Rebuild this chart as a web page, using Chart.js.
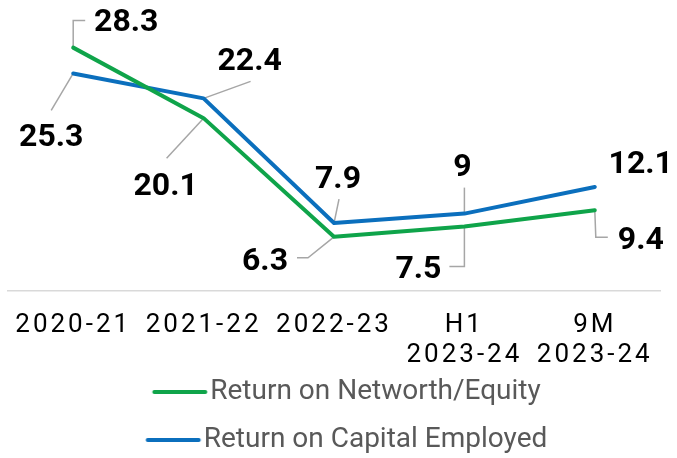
<!DOCTYPE html>
<html>
<head>
<meta charset="utf-8">
<script src="https://cdn.jsdelivr.net/npm/chart.js@4/dist/chart.umd.min.js"></script>
<style>
html,body{margin:0;padding:0;background:#fff;}
#wrap{width:677px;height:458px;position:relative;}
</style>
</head>
<body>
<div id="wrap"><canvas id="c"></canvas></div>
<script>
// ---- data ----
const categories = [["2020-21"], ["2021-22"], ["2022-23"], ["H1", "2023-24"], ["9M", "2023-24"]];
const seriesNames = ["Return on Networth/Equity", "Return on Capital Employed"];
const returnOnNetworth = [28.3, 20.1, 6.3, 7.5, 9.4];
const returnOnCapital = [25.3, 22.4, 7.9, 9, 12.1];
const yRange = [0, 30];

// ---- styling ----
const GREEN = '#0fa44a';
const BLUE = '#0b6fbd';
const LEADER = '#a6a6a6';

// label placement relative to each point (px): cap-middle offset and leader path
const labelLayout = [
  [
    {dx: 53, dy: -28, leader: [[0, 0], [0, -27], [12, -27]]},
    {dx: -38, dy: 65, leader: [[0, 0], [-37, 40]]},
    {dx: -69, dy: 22, leader: [[0, 0], [-26, 21], [-37, 21]]},
    {dx: -46, dy: 40, leader: [[0, 0], [0, 40], [-15, 40]]},
    {dx: 46, dy: 27, leader: [[0, 0], [1, 27], [13, 27]]}
  ],
  [
    {dx: -22, dy: 61, leader: [[0, 0], [-22, 37]]},
    {dx: 46, dy: -40, leader: [[0, 0], [47, -17]]},
    {dx: 4, dy: -47, leader: [[0, 0], [5, -24]]},
    {dx: -2, dy: -49, leader: [[0, -1], [0, -26]]},
    {dx: 46, dy: -25, leader: null}
  ]
];

function legendMarker(color) {
  const cv = document.createElement('canvas');
  cv.width = 94; cv.height = 8;
  const g = cv.getContext('2d');
  g.strokeStyle = color; g.lineWidth = 4; g.lineCap = 'round';
  g.beginPath(); g.moveTo(39.5, 4); g.lineTo(90.5, 4); g.stroke();
  return cv;
}

const labelPlugin = {
  id: 'pointLabels',
  beforeDatasetsDraw(chart) {
    const ctx = chart.ctx;
    chart.data.datasets.forEach((ds, di) => {
      const meta = chart.getDatasetMeta(di);
      meta.data.forEach((pt, i) => {
        const L = labelLayout[di][i];
        if (!L || !L.leader) return;
        ctx.save();
        ctx.strokeStyle = LEADER; ctx.lineWidth = 1.5;
        ctx.beginPath();
        L.leader.forEach(([dx, dy], k) => {
          if (k === 0) ctx.moveTo(pt.x + dx, pt.y + dy); else ctx.lineTo(pt.x + dx, pt.y + dy);
        });
        ctx.stroke();
        ctx.restore();
      });
    });
  },
  afterDatasetsDraw(chart) {
    const ctx = chart.ctx;
    chart.data.datasets.forEach((ds, di) => {
      const meta = chart.getDatasetMeta(di);
      meta.data.forEach((pt, i) => {
        const L = labelLayout[di][i];
        ctx.save();
        ctx.font = 'bold 32px Roboto';
        ctx.fillStyle = '#000';
        ctx.textAlign = 'center';
        ctx.textBaseline = 'alphabetic';
        ctx.fillText(String(ds.data[i]), pt.x + L.dx, pt.y + L.dy + 11.5);
        ctx.restore();
      });
    });
  }
};

function build() {
  new Chart(document.getElementById('c'), {
    type: 'line',
    data: {
      labels: categories,
      datasets: [
        {label: seriesNames[0], data: returnOnNetworth, borderColor: GREEN, backgroundColor: GREEN,
         borderWidth: 4, pointRadius: 0, pointHoverRadius: 0, tension: 0, borderCapStyle: 'round', borderJoinStyle: 'round',
         pointStyle: legendMarker(GREEN)},
        {label: seriesNames[1], data: returnOnCapital, borderColor: BLUE, backgroundColor: BLUE,
         borderWidth: 4, pointRadius: 0, pointHoverRadius: 0, tension: 0, borderCapStyle: 'round', borderJoinStyle: 'round',
         pointStyle: legendMarker(BLUE)}
      ]
    },
    options: {
      responsive: true,
      maintainAspectRatio: false,
      animation: false,
      events: [],
      layout: {padding: {top: 33, left: 8, right: 17, bottom: 0}},
      scales: {
        x: {
          offset: true,
          grid: {display: false, drawTicks: false},
          border: {display: true, color: '#d9d9d9', width: 1.5},
          ticks: {color: '#000', font: {family: 'Roboto', size: 26, lineHeight: 1.15}, padding: 20,
                  autoSkip: false, maxRotation: 0, minRotation: 0},
          afterFit(s) {
            s.height = 67;
            if (!s._lsPatched) {
              const orig = s.drawLabels;
              s._computeLabelArea = function () {
                return {top: this.top, left: 0, bottom: this.chart.height, right: this.chart.width};
              };
              s.drawLabels = function (area) {
                this.ctx.save();
                this.ctx.letterSpacing = '3px';
                orig.call(this, area);
                this.ctx.restore();
              };
              s._lsPatched = true;
            }
          }
        },
        y: {display: false, min: yRange[0], max: yRange[1]}
      },
      plugins: {
        tooltip: {enabled: false},
        legend: {
          position: 'bottom',
          maxHeight: 100,
          labels: {usePointStyle: true, pointStyleWidth: 69, color: '#595959',
                   font: {family: 'Roboto', size: 28}, padding: 20}
        }
      }
    },
    plugins: [labelPlugin]
  });
}

const fontLoads = ['bold 32px Roboto', '28px Roboto', '26px Roboto'].map(f => document.fonts.load(f));
Promise.all(fontLoads).then(build, build);
</script>
</body>
</html>
